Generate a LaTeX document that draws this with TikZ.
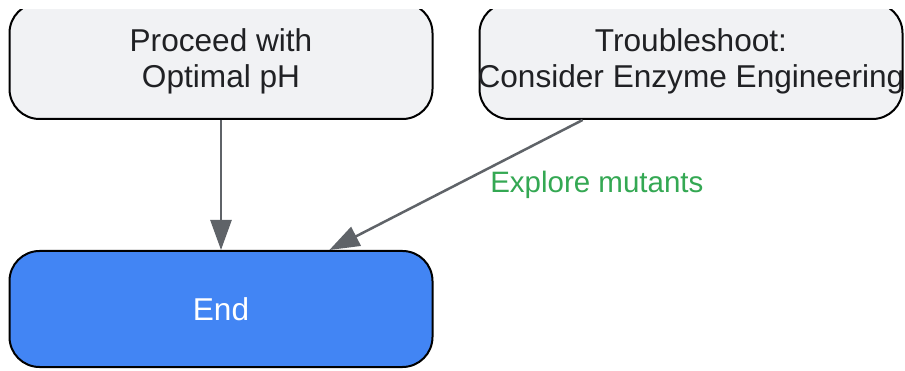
\documentclass[tikz,border=0pt]{standalone}
\usepackage{fontspec}
\setmainfont{Liberation Sans}
\usetikzlibrary{arrows.meta,calc}
\definecolor{boxfill}{HTML}{F1F2F4}
\definecolor{endfill}{HTML}{4285F4}
\definecolor{arrowgray}{HTML}{5F6368}
\definecolor{labelgreen}{HTML}{34A853}
\definecolor{textdark}{HTML}{202124}
\tikzset{
  flowbox/.style={draw=black, line width=2pt, rounded corners=30pt,
    minimum width=423pt, minimum height=116pt, align=center,
    font=\fontsize{31.6}{36}\selectfont, text=textdark, fill=boxfill, inner sep=0pt},
  endbox/.style={flowbox, fill=endfill, text=white},
  conn/.style={draw=arrowgray, line width=2.5pt,
    -{Triangle[length=30pt,width=21pt]}},
  elabel/.style={font=\fontsize{29.5}{34}\selectfont, text=labelgreen, inner sep=0pt}
}
\begin{document}
\begin{tikzpicture}[x=1pt,y=-1pt]
\useasboundingbox[fill=white] (0,0) rectangle (905,371);
\begin{scope}
\clip (0,10) rectangle (905,371);
\node[flowbox] (proc) at (221,61) {Proceed with\\Optimal pH};
\node[flowbox] (trbl) at (691,61) {Troubleshoot:\\\makebox[0pt][c]{Consider Enzyme Engineering}};
\end{scope}
\node[endbox] (endn) at (221,309) {End};
\draw[conn] (proc.south) -- (endn.north);
\draw[conn] ($(trbl.south west)!0.245!(trbl.south east)$) -- node[midway, anchor=west, xshift=33pt, elabel] {Explore mutants} ($(endn.north west)!0.755!(endn.north east)$);
\end{tikzpicture}
\end{document}
